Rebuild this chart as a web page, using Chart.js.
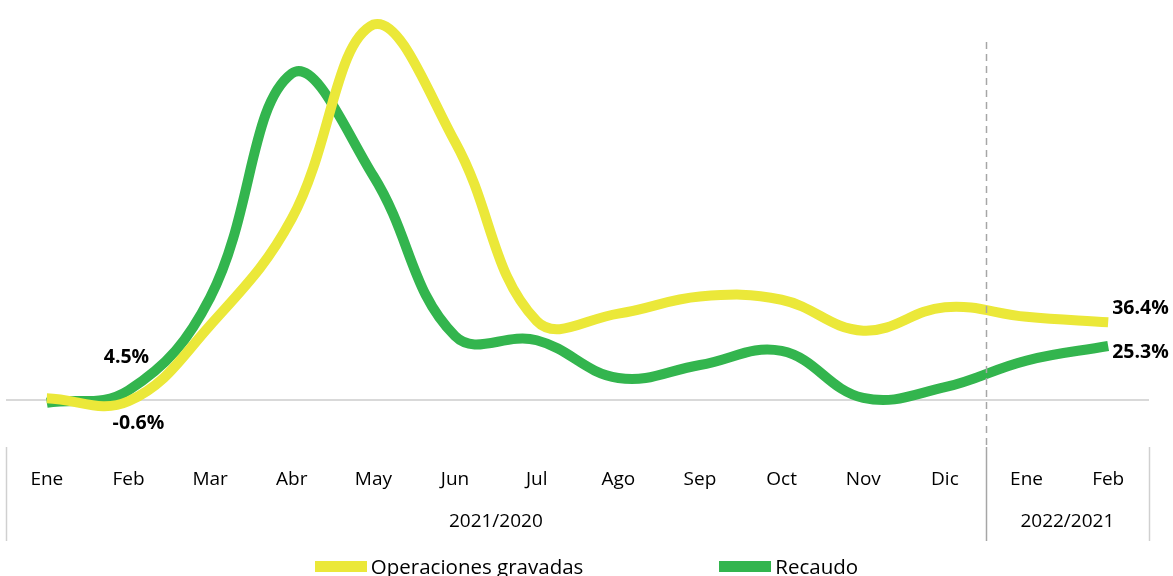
<!DOCTYPE html>
<html>
<head>
<meta charset="utf-8">
<script src="https://cdn.jsdelivr.net/npm/chart.js@4"></script>
<style>
    html, body { margin: 0; padding: 0; background: #fff; overflow: hidden; }
    #wrap { position: relative; width: 1173px; height: 576px; }
    #legend { position: absolute; left: 0; top: 552px; width: 1173px; display: flex; justify-content: center;
              font-family: 'Liberation Sans Narrow', 'Open Sans', sans-serif; font-size: 20.5px; color: #000; }
    .item { display: flex; align-items: center; margin: 0 68px; }
    .box { width: 52px; height: 11px; margin-right: 4px; }
</style>
</head>
<body>
<div id="wrap">
    <canvas id="chart"></canvas>
    <div id="legend"></div>
</div>
<script>
// months (x categories) and the two period groups
const monthLabels = ['Ene', 'Feb', 'Mar', 'Abr', 'May', 'Jun', 'Jul', 'Ago', 'Sep', 'Oct', 'Nov', 'Dic', 'Ene', 'Feb'];
const groupLabels = ['2021/2020', '2022/2021'];
const groupStarts = [0, 12];

// yearly variation (%)
const operacionesData = [0.8, -0.6, 35, 85, 176, 121, 37, 40.5, 48.5, 47, 32.5, 43.5, 39, 36.4];
const recaudoData = [-1.3, 4.5, 48, 153, 105, 30, 28, 10.3, 16.4, 23, 1, 6, 18.5, 25.3];

// which points get a value label
const operacionesLabelIdx = [1, 13];
const recaudoLabelIdx = [1, 13];

const yellow = '#ebe839';
const green = '#33b54e';
const axisFont = "'Liberation Sans Narrow', 'Open Sans', sans-serif";

// separators, group labels and value labels
const extrasPlugin = {
    id: 'extras',
    afterDatasetsDraw(chart) {
        const ctx = chart.ctx;
        const x = chart.scales.x;
        const step = x.getPixelForValue(1) - x.getPixelForValue(0);
        const splitX = Math.round((x.getPixelForValue(11) + x.getPixelForValue(12)) / 2) + 0.5;

        ctx.save();
        // dashed split line
        ctx.strokeStyle = '#a6a6a6';
        ctx.lineWidth = 1.5;
        ctx.setLineDash([7, 5]);
        ctx.beginPath();
        ctx.moveTo(splitX, 42);
        ctx.lineTo(splitX, 445);
        ctx.stroke();
        ctx.setLineDash([]);

        // solid group separators in the axis area
        const left = x.getPixelForValue(0) - step / 2;
        const right = x.getPixelForValue(monthLabels.length - 1) + step / 2;
        ctx.strokeStyle = '#d0d0d0';
        [left, right].forEach(px => {
            ctx.beginPath();
            ctx.moveTo(Math.round(px) + 0.5, 447);
            ctx.lineTo(Math.round(px) + 0.5, 541);
            ctx.stroke();
        });
        ctx.strokeStyle = '#a6a6a6';
        ctx.beginPath();
        ctx.moveTo(splitX, 447);
        ctx.lineTo(splitX, 541);
        ctx.stroke();

        // group labels
        ctx.fillStyle = '#000';
        ctx.font = '19px ' + axisFont;
        ctx.textAlign = 'center';
        ctx.textBaseline = 'middle';
        groupLabels.forEach((g, i) => {
            const a = groupStarts[i];
            const b = i + 1 < groupStarts.length ? groupStarts[i + 1] - 1 : monthLabels.length - 1;
            const cx = (x.getPixelForValue(a) + x.getPixelForValue(b)) / 2;
            ctx.fillText(g, cx, 522);
        });

        // value labels
        ctx.font = "bold 19.5px 'Open Sans', sans-serif";
        const fmt = v => v.toFixed(1) + '%';
        const yMeta = chart.getDatasetMeta(0).data;
        const gMeta = chart.getDatasetMeta(1).data;
        operacionesLabelIdx.forEach(i => {
            const p = yMeta[i];
            if (i === monthLabels.length - 1) {
                ctx.textAlign = 'left';
                ctx.fillText(fmt(operacionesData[i]), p.x + 4, p.y - 14);
            } else {
                ctx.textAlign = 'center';
                ctx.fillText(fmt(operacionesData[i]), p.x + 10, p.y + 22);
            }
        });
        recaudoLabelIdx.forEach(i => {
            const p = gMeta[i];
            if (i === monthLabels.length - 1) {
                ctx.textAlign = 'left';
                ctx.fillText(fmt(recaudoData[i]), p.x + 4, p.y + 6);
            } else {
                ctx.textAlign = 'center';
                ctx.fillText(fmt(recaudoData[i]), p.x - 2, p.y - 33);
            }
        });
        ctx.restore();
    }
};

const chartCtx = document.getElementById('chart').getContext('2d');
const lineChart = new Chart(chartCtx, {
    type: 'line',
    data: {
        labels: monthLabels,
        datasets: [{
            label: 'Operaciones gravadas',
            data: operacionesData,
            borderColor: yellow,
            backgroundColor: yellow,
            borderWidth: 10,
            pointRadius: 0,
            tension: 0.4
        },
        {
            label: 'Recaudo',
            data: recaudoData,
            borderColor: green,
            backgroundColor: green,
            borderWidth: 10,
            pointRadius: 0,
            tension: 0.4
        }]
    },
    options: {
        responsive: true,
        maintainAspectRatio: false,
        animation: false,
        layout: {
            padding: { top: 16, left: 6, right: 24, bottom: 0 }
        },
        plugins: {
            legend: { display: false },
            tooltip: { enabled: false }
        },
        scales: {
            x: {
                offset: true,
                grid: { display: false, drawTicks: false },
                border: { display: false },
                ticks: {
                    color: '#000',
                    padding: 36,
                    autoSkip: false,
                    maxRotation: 0,
                    font: { family: axisFont, size: 19 }
                },
                afterFit: (scale) => {
                    scale.height = 144;
                    scale.paddingLeft = 0;
                    scale.paddingRight = 0;
                }
            },
            y: {
                min: -15,
                max: 180,
                grid: {
                    drawTicks: false,
                    lineWidth: 2,
                    color: (c) => c.tick && c.tick.value === 0 ? '#d9d9d9' : 'rgba(0,0,0,0)'
                },
                border: { display: false },
                ticks: { display: false, stepSize: 15 },
                afterFit: (scale) => { scale.width = 0; }
            }
        }
    },
    plugins: [extrasPlugin]
});

// legend built from the datasets
const legendDiv = document.getElementById('legend');
lineChart.data.datasets.forEach(ds => {
    const item = document.createElement('div');
    item.className = 'item';
    const box = document.createElement('span');
    box.className = 'box';
    box.style.background = ds.borderColor;
    const txt = document.createElement('span');
    txt.textContent = ds.label;
    item.appendChild(box);
    item.appendChild(txt);
    legendDiv.appendChild(item);
});
</script>
</body>
</html>
